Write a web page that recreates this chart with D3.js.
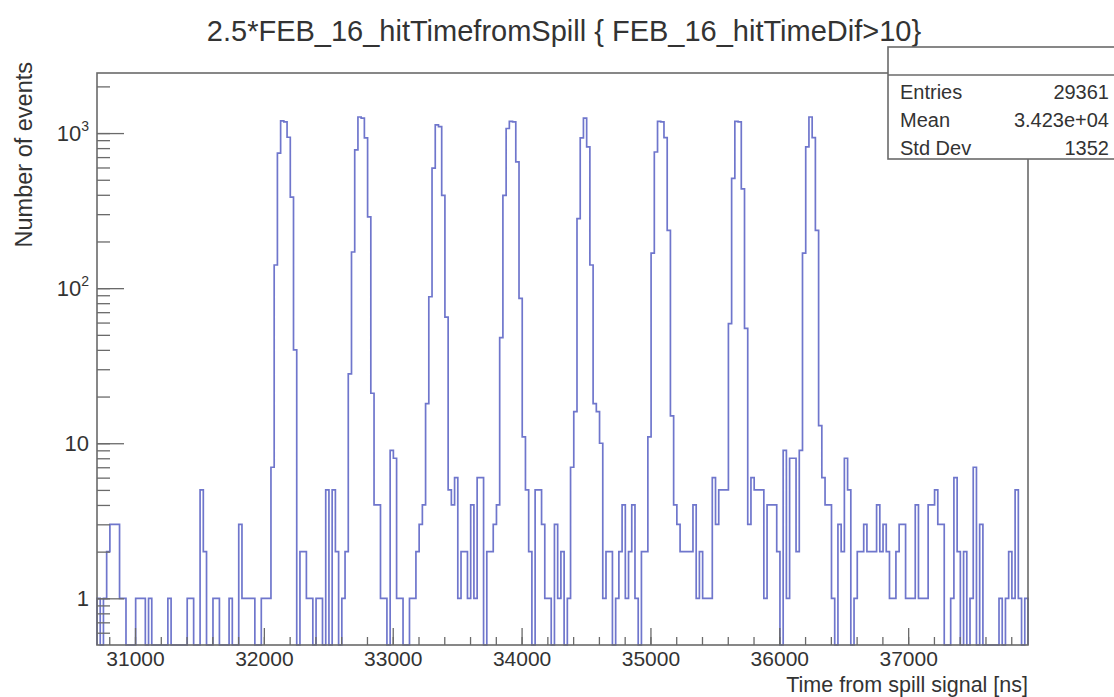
<!DOCTYPE html>
<html><head><meta charset="utf-8">
<script src="https://cdn.jsdelivr.net/npm/d3@7"></script>
<style>
body{margin:0;background:#fff}
text{font-family:"Liberation Sans",Arial,Helvetica,sans-serif;fill:#333}
</style>
</head><body>
<svg id="c" width="1114" height="697"></svg>
<script>
// ---- data ----
const xStart = 30705;     // ns, left edge of first bin
const binWidth = 25;      // ns
const counts = [
1,0,1,2,3,3,3,1,1,0,
0,0,1,1,1,0,1,0,0,0,
0,0,1,0,0,0,0,0,1,1,
0,0,5,2,0,0,1,1,0,0,
0,1,0,0,3,1,1,1,1,0,
0,1,1,1,7,141,742,1200,1180,940,
386,40,0,2,2,1,1,0,1,1,
0,5,0,5,2,0,1,2,28,171,
780,1270,1250,930,288,21,4,4,1,1,
0,9,8,1,1,0,0,1,1,2,
3,4,18,88,594,1130,1100,397,65,5,
4,6,1,2,2,1,4,1,6,6,
0,2,2,3,4,48,397,1070,1190,1180,
653,86,11,5,2,0,5,5,3,1,
1,0,3,1,2,0,1,7,16,281,
930,1250,815,141,18,16,10,1,2,2,
0,1,2,4,1,2,4,1,0,2,
2,11,168,755,1190,1180,935,236,15,4,
3,2,2,2,2,4,1,2,1,1,
1,6,3,5,5,5,59,510,1190,1180,
437,55,3,6,5,5,5,1,4,4,
4,2,0,9,1,8,8,2,9,168,
814,1270,935,236,13,6,4,4,1,0,
3,2,8,5,0,1,2,2,3,2,
2,2,4,2,3,2,1,1,2,3,
3,1,1,1,4,1,1,1,4,4,
5,3,3,0,0,1,6,2,0,2,
0,1,7,0,3,0,0,0,0,0,
1,0,1,2,1,5,1,0,1
];
const xTicks = [31000,32000,33000,34000,35000,36000,37000];
const yTicks = [1,10,100,1000];
const yTickBase = ["1","10","10","10"];
const yTickExp  = ["","","2","3"];
const titleText = "2.5*FEB_16_hitTimefromSpill { FEB_16_hitTimeDif>10}";
const xTitle = "Time from spill signal [ns]";
const yTitle = "Number of events";
const statsLabels = ["Entries","Mean","Std Dev"];
const statsValues = ["29361","3.423e+04","1352"];

// ---- layout ----
const L = 97, R = 1028, T = 73, B = 645;
const svg = d3.select("#c");
svg.append("rect").attr("width",1114).attr("height",697).attr("fill","#fff");

const x = d3.scaleLinear([xStart, xStart + counts.length*binWidth], [L, R]);
const y = d3.scaleLog([0.5, 2440], [B, T]);

const frameColor = "#6a6a6a";

// histogram outline
const pts = [[x(xStart), B]];
counts.forEach((c,i) => {
  const yv = c > 0 ? y(c) : B;
  pts.push([x(xStart + i*binWidth), yv]);
  pts.push([x(xStart + (i+1)*binWidth), yv]);
});
pts.push([x(xStart + counts.length*binWidth), B]);
svg.append("path")
  .attr("d", d3.line()(pts))
  .attr("fill","none")
  .attr("stroke","#6f76cc")
  .attr("stroke-width",1.7);

// axes
const gx = svg.append("g").attr("transform",`translate(0,${B})`);
gx.call(d3.axisBottom(x).tickValues(d3.range(30800, 37930, 200)).tickSize(-8).tickFormat(""));
const gx2 = svg.append("g").attr("transform",`translate(0,${B})`);
gx2.call(d3.axisBottom(x).tickValues(xTicks).tickSize(-17).tickPadding(6).tickFormat(d3.format("d")));
gx2.selectAll("text").attr("font-size",21).attr("fill","#333");

const gy = svg.append("g").attr("transform",`translate(${L},0)`);
gy.call(d3.axisLeft(y).tickValues(y.ticks().filter(v => v > 0.5)).tickSize(-13).tickFormat(""));
const gy2 = svg.append("g").attr("transform",`translate(${L},0)`);
gy2.call(d3.axisLeft(y).tickValues(yTicks).tickSize(-27).tickFormat(""));

[gx,gx2,gy,gy2].forEach(g => {
  g.selectAll(".domain").remove();
  g.selectAll("line").attr("stroke",frameColor).attr("stroke-width",1.3);
  g.attr("font-family",null);
});

// y tick labels with superscripts
yTicks.forEach((v,i) => {
  const t = svg.append("text").attr("x", L - 8).attr("y", y(v) + 8)
    .attr("text-anchor","end").attr("font-size",22);
  t.append("tspan").text(yTickBase[i]);
  if (yTickExp[i]) t.append("tspan").attr("font-size",14).attr("dy",-10).text(yTickExp[i]);
});

// frame
svg.append("rect").attr("x",L).attr("y",T).attr("width",R-L).attr("height",B-T)
  .attr("fill","none").attr("stroke",frameColor).attr("stroke-width",1.6);

// titles
svg.append("text").attr("x",564).attr("y",41).attr("text-anchor","middle")
  .attr("font-size",29).text(titleText);
svg.append("text").attr("x",R).attr("y",692).attr("text-anchor","end")
  .attr("font-size",21.5).text(xTitle);
svg.append("text").attr("transform",`translate(32,${T-11}) rotate(-90)`)
  .attr("text-anchor","end").attr("font-size",23.5).text(yTitle);

// stats box
const bx = 888, by = 47, bsep = 75, bb = 159;
svg.append("rect").attr("x",bx).attr("y",by).attr("width",240).attr("height",bb-by)
  .attr("fill","#fff").attr("stroke",frameColor).attr("stroke-width",1.6);
svg.append("line").attr("x1",bx).attr("x2",1114).attr("y1",bsep).attr("y2",bsep)
  .attr("stroke",frameColor).attr("stroke-width",1.6);
statsLabels.forEach((s,i) => {
  const yy = 99 + i*28;
  svg.append("text").attr("x",900).attr("y",yy).attr("font-size",20).text(s);
  svg.append("text").attr("x",1109).attr("y",yy).attr("text-anchor","end").attr("font-size",20).text(statsValues[i]);
});
</script>
</body></html>
